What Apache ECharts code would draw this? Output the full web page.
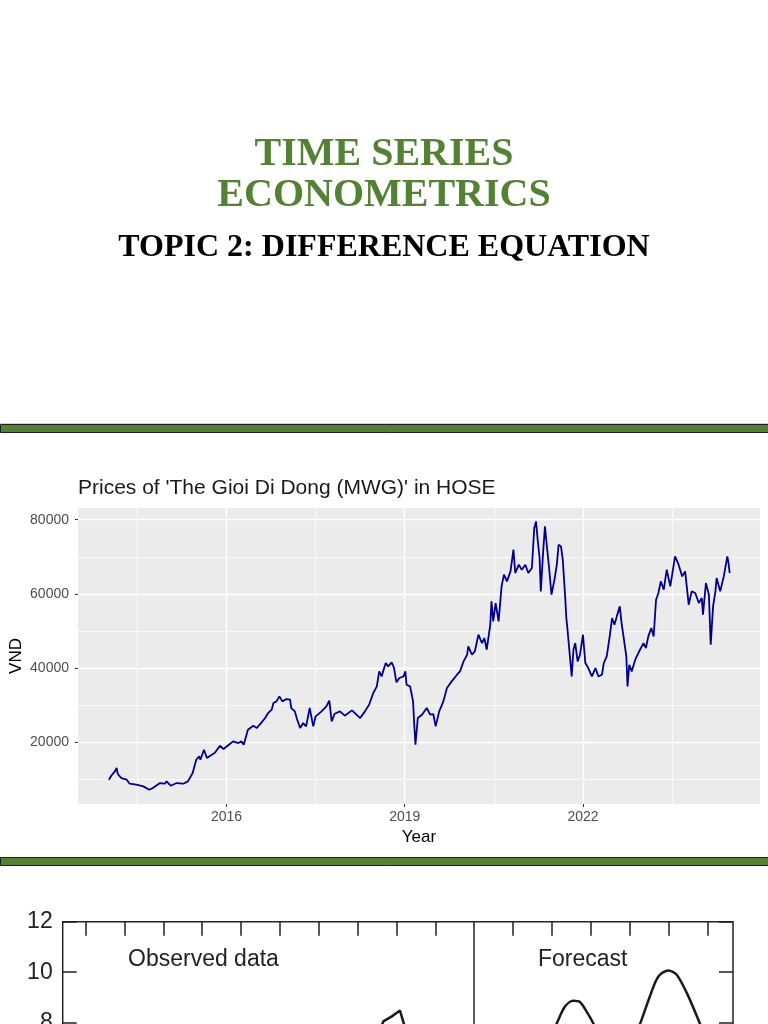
<!DOCTYPE html>
<html>
<head>
<meta charset="utf-8">
<script src="https://cdn.jsdelivr.net/npm/echarts@6/dist/echarts.min.js"></script>
<style>
  html, body { margin: 0; padding: 0; background: #fff; overflow: hidden; }
  #chart { width: 768px; height: 1024px; }
</style>
</head>
<body>
<div id="chart"></div>
<script>
// MWG closing prices (year, VND)
const priceYears = [
  2014.02, 2014.06, 2014.12, 2014.15, 2014.17, 2014.23, 2014.32, 2014.37, 2014.48, 2014.60,
  2014.70, 2014.76, 2014.88, 2014.96, 2014.99, 2015.06, 2015.16, 2015.27, 2015.35, 2015.43,
  2015.49, 2015.54, 2015.56, 2015.62, 2015.67, 2015.75, 2015.80, 2015.89, 2015.95, 2016.06,
  2016.11, 2016.20, 2016.25, 2016.29, 2016.36, 2016.45, 2016.51, 2016.59, 2016.65, 2016.70,
  2016.76, 2016.79, 2016.84, 2016.89, 2016.94, 2017.01, 2017.07, 2017.09, 2017.15, 2017.19,
  2017.24, 2017.29, 2017.34, 2017.40, 2017.46, 2017.50, 2017.60, 2017.68, 2017.73, 2017.77,
  2017.82, 2017.91, 2017.99, 2018.11, 2018.16, 2018.25, 2018.33, 2018.40, 2018.47, 2018.53,
  2018.57, 2018.61, 2018.68, 2018.72, 2018.78, 2018.82, 2018.86, 2018.91, 2018.98, 2019.01,
  2019.03, 2019.09, 2019.14, 2019.16, 2019.18, 2019.22, 2019.29, 2019.37, 2019.43, 2019.48,
  2019.52, 2019.58, 2019.65, 2019.71, 2019.79, 2019.88, 2019.93, 2019.99, 2020.05, 2020.07,
  2020.13, 2020.18, 2020.24, 2020.30, 2020.34, 2020.38, 2020.44, 2020.46, 2020.49, 2020.53,
  2020.58, 2020.63, 2020.67, 2020.72, 2020.78, 2020.83, 2020.86, 2020.92, 2020.97, 2021.03,
  2021.08, 2021.14, 2021.18, 2021.21, 2021.24, 2021.27, 2021.29, 2021.33, 2021.36, 2021.39,
  2021.43, 2021.47, 2021.52, 2021.56, 2021.59, 2021.63, 2021.66, 2021.70, 2021.72, 2021.74,
  2021.77, 2021.81, 2021.84, 2021.87, 2021.91, 2021.95, 2022.00, 2022.04, 2022.09, 2022.15,
  2022.21, 2022.26, 2022.32, 2022.35, 2022.40, 2022.45, 2022.49, 2022.53, 2022.57, 2022.62,
  2022.65, 2022.69, 2022.73, 2022.75, 2022.78, 2022.82, 2022.88, 2022.96, 2023.02, 2023.06,
  2023.10, 2023.15, 2023.19, 2023.23, 2023.27, 2023.31, 2023.36, 2023.41, 2023.47, 2023.55,
  2023.61, 2023.67, 2023.72, 2023.78, 2023.83, 2023.89, 2023.95, 2024.00, 2024.02, 2024.07,
  2024.12, 2024.15, 2024.19, 2024.23, 2024.25, 2024.31, 2024.37, 2024.43, 2024.45, 2024.47
]
const priceValues = [
  9830, 10900, 12080, 12980, 11360, 10280, 9830, 8750, 8480, 8030,
  7130, 7580, 8930, 8750, 9380, 8210, 8930, 8750, 9380, 11630,
  15220, 16120, 15220, 17920, 15670, 16570, 17020, 19000, 18100, 19540,
  20170, 19720, 20170, 19270, 23320, 24400, 23770, 25300, 26470, 27820,
  28720, 30520, 30970, 32320, 30970, 31600, 31420, 29170, 28270, 26020,
  23770, 25120, 24220, 29170, 24220, 26920, 28270, 29620, 31150, 25570,
  27640, 28270, 27100, 28540, 27820, 26470, 28270, 30070, 33220, 35020,
  39070, 37720, 41310, 40420, 41490, 39970, 36100, 37270, 37720, 39070,
  35470, 35020, 30970, 24670, 19270, 26470, 27370, 29170, 27370, 27550,
  24220, 28270, 30970, 34570, 36370, 38170, 39070, 41760, 43560, 45810,
  43560, 44460, 48960, 46710, 48060, 44910, 51660, 57960, 52560, 57510,
  52560, 62010, 65160, 63360, 66060, 71900, 65610, 67860, 66510, 67860,
  65610, 66960, 77750, 79550, 74150, 69660, 60660, 71450, 78200, 73250,
  66960, 59760, 63810, 67860, 73250, 72800, 69200, 59300, 53460, 50310,
  44910, 37720, 44910, 46710, 41760, 43560, 48960, 41310, 39960, 37720,
  39960, 37720, 38160, 41310, 43110, 48510, 53460, 51660, 53910, 56610,
  52110, 47610, 43110, 35020, 40860, 39060, 42210, 44910, 46710, 45360,
  48510, 50760, 48510, 58410, 60210, 63360, 61110, 66510, 62010, 70100,
  67850, 64700, 66060, 57060, 60660, 60210, 57510, 58860, 54360, 62910,
  59760, 46260, 56610, 60660, 64260, 60660, 64700, 70100, 68300, 65610
]
const yearTicks = [2016, 2019, 2022]
const yearMinor = [2014.5, 2017.5, 2020.5, 2023.5]
const vndTicks = [20000, 40000, 60000, 80000]
const vndMinor = [10000, 30000, 50000, 70000]

// lower figure: observed data and forecast (period index, value)
const obsX = [7.55, 7.66, 7.88, 8.09, 8.19, 8.25]
const obsY = [7.6, 8.05, 8.25, 8.48, 7.96, 7.6]
const fcX = [11.95, 12.12, 12.34, 12.55, 12.72, 12.89, 13.07, 13.25, 14.08, 14.27, 14.52, 14.74, 15.0, 15.21, 15.47, 15.81, 15.95]
const fcY = [7.4, 7.96, 8.65, 8.87, 8.82, 8.45, 7.96, 7.3, 7.3, 7.96, 9.04, 9.83, 10.07, 9.9, 9.18, 7.96, 7.4]
const periodTicks = [0, 1, 2, 3, 4, 5, 6, 7, 8, 9, 11, 12, 13, 14, 15, 16]
const forecastStart = 10

const zip = (a, b) => a.map((v, i) => [v, b[i]])
const plain = v => String(v)

const chart = echarts.init(document.getElementById('chart'))

const sans = 'Liberation Sans, Arial, sans-serif'
const serif = 'Liberation Serif, Times New Roman, serif'
const green = '#548235'
const ink = '#222'

const option = {
  backgroundColor: '#fff',
  animation: false,
  title: [
    {text: 'TIME SERIES', left: 'center', top: 135, padding: 0,
      textStyle: {fontFamily: serif, fontWeight: 'bold', fontSize: 40, color: green}},
    {text: 'ECONOMETRICS', left: 'center', top: 176, padding: 0,
      textStyle: {fontFamily: serif, fontWeight: 'bold', fontSize: 40, color: green}},
    {text: 'TOPIC 2: DIFFERENCE EQUATION', left: 'center', top: 232, padding: 0,
      textStyle: {fontFamily: serif, fontWeight: 'bold', fontSize: 32, color: '#000'}},
    {text: "Prices of 'The Gioi Di Dong (MWG)' in HOSE", left: 78, top: 478, padding: 0,
      textStyle: {fontFamily: sans, fontWeight: 'normal', fontSize: 21, color: '#1a1a1a'}}
  ],
  graphic: [
    {type: 'rect', shape: {x: 0, y: 423, width: 800, height: 1}, style: {fill: '#d0d0d0'}},
    {type: 'rect', shape: {x: 0.5, y: 424.5, width: 800, height: 8}, style: {fill: green, stroke: '#1e1e1e', lineWidth: 1}},
    {type: 'rect', shape: {x: 0.5, y: 857.5, width: 800, height: 8}, style: {fill: green, stroke: '#1e1e1e', lineWidth: 1}},
    {type: 'text', x: 128, y: 960, style: {text: 'Observed data', fontFamily: sans, fontSize: 23, fill: ink, verticalAlign: 'middle'}},
    {type: 'text', x: 538, y: 960, style: {text: 'Forecast', fontFamily: sans, fontSize: 23, fill: ink, verticalAlign: 'middle'}}
  ],
  grid: [
    {left: 78, top: 508, width: 682, height: 296, show: true, backgroundColor: '#EBEBEB', borderWidth: 0,
      containLabel: false, outerBoundsMode: 'none'},
    {left: 62.7, top: 921.7, width: 670.3, height: 303, show: true, backgroundColor: 'transparent',
      borderColor: ink, borderWidth: 1.5, containLabel: false, outerBoundsMode: 'none'}
  ],
  xAxis: [
    {
      gridIndex: 0, type: 'value', min: 2013.5, max: 2024.98,
      axisLine: {show: false},
      axisTick: {show: true, length: 3, lineStyle: {color: '#333'}, customValues: yearTicks},
      axisLabel: {customValues: yearTicks, formatter: plain, color: '#4D4D4D', fontSize: 14, fontFamily: sans, margin: 6},
      splitLine: {show: true, lineStyle: {color: '#fff', width: 1.4}},
      name: 'Year', nameLocation: 'middle', nameGap: 25, nameMoveOverlap: false,
      nameTextStyle: {fontFamily: sans, fontSize: 17, color: '#000'}
    },
    {
      gridIndex: 0, type: 'value', min: 2013.5, max: 2024.98, position: 'bottom',
      axisLine: {show: false},
      axisTick: {show: false, customValues: yearMinor},
      axisLabel: {show: false, customValues: yearMinor},
      splitLine: {show: true, lineStyle: {color: '#fff', width: 0.7}}
    },
    {
      gridIndex: 1, type: 'value', min: -0.59, max: 16.66, position: 'top',
      axisLine: {show: false, onZero: false},
      axisTick: {show: true, inside: true, length: 14, lineStyle: {color: ink, width: 1.5}, customValues: periodTicks},
      axisLabel: {show: false},
      splitLine: {show: false}
    }
  ],
  yAxis: [
    {
      gridIndex: 0, type: 'value', min: 3270, max: 83160,
      axisLine: {show: false},
      axisTick: {show: true, length: 3, lineStyle: {color: '#333'}, customValues: vndTicks},
      axisLabel: {customValues: vndTicks, formatter: plain, color: '#4D4D4D', fontSize: 14, fontFamily: sans, margin: 9},
      splitLine: {show: true, lineStyle: {color: '#fff', width: 1.4}},
      name: 'VND', nameLocation: 'middle', nameGap: 53, nameRotate: 90, nameMoveOverlap: false,
      nameTextStyle: {fontFamily: sans, fontSize: 17, color: '#000'}
    },
    {
      gridIndex: 0, type: 'value', min: 3270, max: 83160, position: 'left',
      axisLine: {show: false},
      axisTick: {show: false, customValues: vndMinor},
      axisLabel: {show: false, customValues: vndMinor},
      splitLine: {show: true, lineStyle: {color: '#fff', width: 0.7}}
    },
    {
      gridIndex: 1, type: 'value', min: 0, max: 12, interval: 2, position: 'left',
      axisLine: {show: false, onZero: false},
      axisTick: {show: true, inside: true, length: 14, lineStyle: {color: ink, width: 1.5}},
      axisLabel: {color: ink, fontSize: 23, fontFamily: sans, margin: 10},
      splitLine: {show: false}
    },
    {
      gridIndex: 1, type: 'value', min: 0, max: 12, interval: 2, position: 'right',
      axisLine: {show: false, onZero: false},
      axisTick: {show: true, inside: true, length: 14, lineStyle: {color: ink, width: 1.5}},
      axisLabel: {show: false},
      splitLine: {show: false}
    }
  ],
  series: [
    {
      name: 'MWG', type: 'line', xAxisIndex: 0, yAxisIndex: 0,
      data: zip(priceYears, priceValues),
      showSymbol: false, z: 3,
      lineStyle: {color: '#00008B', width: 1.8}
    },
    {
      name: 'Observed', type: 'line', xAxisIndex: 2, yAxisIndex: 2,
      data: zip(obsX, obsY),
      showSymbol: false,
      lineStyle: {color: '#1a1a1a', width: 2.5}
    },
    {
      name: 'Forecast', type: 'line', xAxisIndex: 2, yAxisIndex: 2,
      data: zip(fcX, fcY),
      smooth: 0.3, showSymbol: false,
      lineStyle: {color: '#1a1a1a', width: 2.5},
      markLine: {
        silent: true, symbol: 'none', label: {show: false},
        lineStyle: {color: ink, width: 1.5, type: 'solid'},
        data: [{xAxis: forecastStart}]
      }
    }
  ]
}

chart.setOption(option)
</script>
</body>
</html>
